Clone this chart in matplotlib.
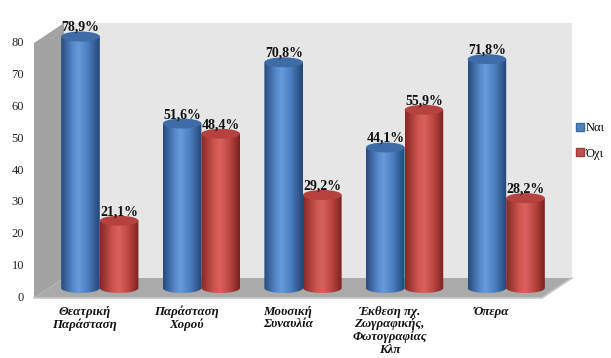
import numpy as np
import matplotlib
matplotlib.use("Agg")
import matplotlib.pyplot as plt
from matplotlib.patches import Polygon, Ellipse, PathPatch, Patch
from matplotlib.path import Path
from matplotlib.colors import to_rgb

plt.rcParams['font.family'] = ['Liberation Serif', 'DejaVu Serif']

categories = ["Θεατρική\nΠαράσταση", "Παράσταση\nΧορού", "Μουσική\nΣυναυλία",
              "Έκθεση πχ.\nΖωγραφικής,\nΦωτογραφίας\nΚλπ", "Όπερα"]
nai = [78.9, 51.6, 70.8, 44.1, 71.8]
oxi = [21.1, 48.4, 29.2, 55.9, 28.2]
series_names = ["Ναι", "Όχι"]
yticks = [0, 10, 20, 30, 40, 50, 60, 70, 80]

W, H = 611, 358
fig = plt.figure(figsize=(W / 100, H / 100), dpi=100)
ax = fig.add_axes([0, 0, 1, 1])
ax.axis('off')

# front plane: x -0.5..4.5 -> px 34..542, y 0..80 -> px 298..43
pxu = 508 / 5.0
pyu = 255 / 80.0
x0 = -0.5 - 34 / pxu
x1 = -0.5 + (W - 34) / pxu
y0 = -(H - 298) / pyu
y1 = 298 / pyu
dx = 30 / pxu      # depth offset
dy = 20 / pyu
ymax = 80
n = len(categories)
xl, xr = -0.5, n - 0.5

# walls and floor
ax.add_patch(Polygon([(xl + dx, dy), (xr + dx, dy), (xr + dx, ymax + dy), (xl + dx, ymax + dy)],
                     closed=True, facecolor='#e6e6e6', edgecolor='none', zorder=1))
ax.add_patch(Polygon([(xl, 0), (xl + dx, dy), (xl + dx, ymax + dy), (xl, ymax)],
                     closed=True, facecolor='#a3a3a3', edgecolor='none', zorder=2))
ax.add_patch(Polygon([(xl, 0), (xr, 0), (xr + dx, dy), (xl + dx, dy)],
                     closed=True, facecolor='#aaaaaa', edgecolor='none', zorder=2))
ax.plot([xl, xr, xr + dx], [0, 0, dy], color='#c9c9c9', lw=1.2, zorder=2.5)


def gradient(stops):
    pos = np.linspace(0, 1, 64)
    sp = [s[0] for s in stops]
    cols = np.array([to_rgb(s[1]) for s in stops])
    g = np.stack([np.interp(pos, sp, cols[:, k]) for k in range(3)], axis=-1)
    return g[np.newaxis, :, :]


blue_grad = gradient([(0, '#264c7e'), (0.3, '#5588c8'), (0.45, '#679bdb'),
                      (0.7, '#4a7dbd'), (1.0, '#234676')])
red_grad = gradient([(0, '#852826'), (0.35, '#d0574f'), (0.5, '#d9625e'),
                     (0.75, '#b9443f'), (1.0, '#7a2220')])

bw = 0.38
eh = 10 / pyu
zb = dy / 2


def cylinder(xc, v, grad, topcol, z):
    xa, xb = xc - bw / 2, xc + bw / 2
    yb, yt = zb, zb + v
    t = np.linspace(np.pi, 2 * np.pi, 40)
    verts = [(xa, yt), (xa, yb)]
    verts += list(zip(xc + bw / 2 * np.cos(t), yb + eh / 2 * np.sin(t)))
    verts += [(xb, yb), (xb, yt), (xa, yt)]
    path = Path(verts)
    clip = PathPatch(path, facecolor='none', edgecolor='none', transform=ax.transData)
    ax.add_patch(clip)
    im = ax.imshow(grad, extent=[xa, xb, yb - eh / 2, yt], aspect='auto',
                   interpolation='bilinear', zorder=z)
    im.set_clip_path(clip)
    ax.add_patch(Ellipse((xc, yt), bw, eh, facecolor=topcol, edgecolor='none', zorder=z + 0.1))


for i in range(n):
    gc = i + dx / 2
    cylinder(gc - bw / 2, nai[i], blue_grad, '#3e6ca6', 3)
    cylinder(gc + bw / 2, oxi[i], red_grad, '#b5423e', 4)
    for xc, v in [(gc - bw / 2, nai[i]), (gc + bw / 2, oxi[i])]:
        ax.text(xc, zb + v + eh * 0.25, f"{v:.1f}%".replace('.', ','), ha='center', va='bottom',
                fontsize=10, fontweight='bold', color='#111111', zorder=6)
    ax.text(i, -8 / pyu, categories[i], ha='center', va='top', fontsize=9.3,
            fontweight='bold', fontstyle='italic', linespacing=1.05, color='#111111')

for t in yticks:
    ax.text(xl - 10 / pxu, t, str(t), ha='right', va='center', fontsize=9, color='#222222')

handles = [Patch(facecolor='#4f81bd', edgecolor='#3a6aa5'),
           Patch(facecolor='#c0504d', edgecolor='#a03c3a')]
fig.legend(handles, series_names, loc='center left', bbox_to_anchor=(576 / W, 1 - 141 / H),
           frameon=False, fontsize=9, handlelength=0.6, handleheight=0.6,
           handletextpad=0.15, labelspacing=1.1, borderaxespad=0, borderpad=0)

ax.set_xlim(x0, x1)
ax.set_ylim(y0, y1)
fig.savefig("out.png", dpi=100)
